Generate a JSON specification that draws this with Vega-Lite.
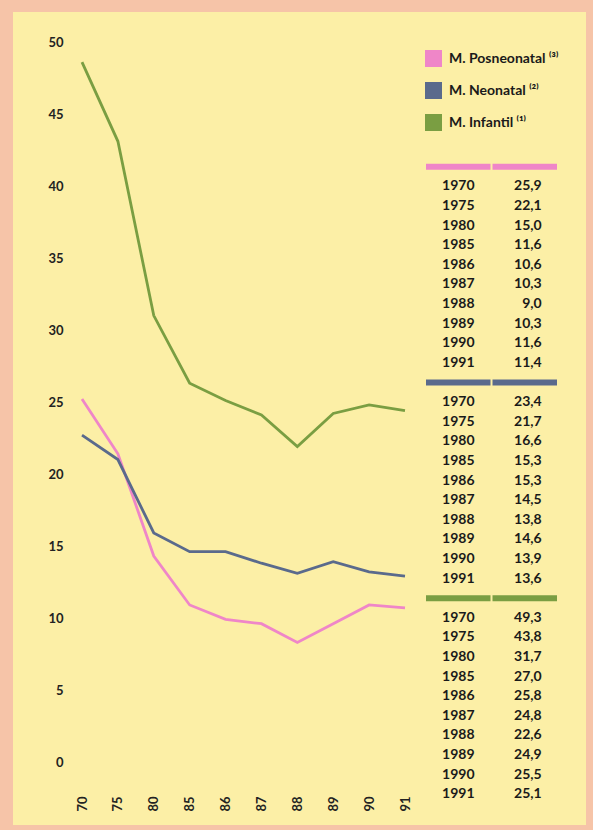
{
  "$schema": "https://vega.github.io/schema/vega-lite/v6.json",
  "autosize": "none",
  "width": 573,
  "height": 813,
  "padding": {"left": 13, "top": 12, "right": 7, "bottom": 5},
  "background": "#f6c4a8",
  "config": {
    "view": {"fill": "#fcefa6", "stroke": null},
    "font": "Lato",
    "locale": {"number": {"decimal": ",", "thousands": ".", "grouping": [3], "currency": ["", " €"]}}
  },
  "data": {
    "values": [
      {"serie": "Posneonatal", "year": "1970", "v": 25.9},
      {"serie": "Posneonatal", "year": "1975", "v": 22.1},
      {"serie": "Posneonatal", "year": "1980", "v": 15.0},
      {"serie": "Posneonatal", "year": "1985", "v": 11.6},
      {"serie": "Posneonatal", "year": "1986", "v": 10.6},
      {"serie": "Posneonatal", "year": "1987", "v": 10.3},
      {"serie": "Posneonatal", "year": "1988", "v": 9.0},
      {"serie": "Posneonatal", "year": "1989", "v": 10.3},
      {"serie": "Posneonatal", "year": "1990", "v": 11.6},
      {"serie": "Posneonatal", "year": "1991", "v": 11.4},
      {"serie": "Neonatal", "year": "1970", "v": 23.4},
      {"serie": "Neonatal", "year": "1975", "v": 21.7},
      {"serie": "Neonatal", "year": "1980", "v": 16.6},
      {"serie": "Neonatal", "year": "1985", "v": 15.3},
      {"serie": "Neonatal", "year": "1986", "v": 15.3},
      {"serie": "Neonatal", "year": "1987", "v": 14.5},
      {"serie": "Neonatal", "year": "1988", "v": 13.8},
      {"serie": "Neonatal", "year": "1989", "v": 14.6},
      {"serie": "Neonatal", "year": "1990", "v": 13.9},
      {"serie": "Neonatal", "year": "1991", "v": 13.6},
      {"serie": "Infantil", "year": "1970", "v": 49.3},
      {"serie": "Infantil", "year": "1975", "v": 43.8},
      {"serie": "Infantil", "year": "1980", "v": 31.7},
      {"serie": "Infantil", "year": "1985", "v": 27.0},
      {"serie": "Infantil", "year": "1986", "v": 25.8},
      {"serie": "Infantil", "year": "1987", "v": 24.8},
      {"serie": "Infantil", "year": "1988", "v": 22.6},
      {"serie": "Infantil", "year": "1989", "v": 24.9},
      {"serie": "Infantil", "year": "1990", "v": 25.5},
      {"serie": "Infantil", "year": "1991", "v": 25.1}
    ]
  },
  "resolve": {"scale": {"x": "independent", "y": "independent"}},
  "layer": [
    {
      "mark": {"type": "line", "strokeWidth": 2.8},
      "encoding": {
        "x": {
          "field": "year", "type": "ordinal",
          "scale": {"type": "point", "range": [69, 392], "padding": 0},
          "axis": {
            "orient": "bottom", "title": null, "ticks": false, "domain": false, "grid": false,
            "labelExpr": "substring(datum.label, 2)", "labelAngle": -90,
            "offset": -31, "labelPadding": 2,
            "labelFont": "Lato", "labelFontWeight": "bold", "labelFontSize": 13, "labelColor": "#222222"
          }
        },
        "y": {
          "field": "v", "type": "quantitative",
          "scale": {"domain": [-3.68, 52.78], "nice": false, "zero": false},
          "axis": {
            "values": [0, 5, 10, 15, 20, 25, 30, 35, 40, 45, 50],
            "title": null, "ticks": false, "domain": false, "grid": false,
            "offset": -55, "labelPadding": 5, "labelOffset": -10,
            "labelFont": "Lato", "labelFontWeight": "bold", "labelFontSize": 13, "labelColor": "#222222"
          }
        },
        "color": {
          "field": "serie", "type": "nominal",
          "scale": {"domain": ["Posneonatal", "Neonatal", "Infantil"], "range": ["#ef86c8", "#5a6a8c", "#7a9e42"]},
          "legend": {
            "orient": "none", "legendX": 412, "legendY": 38, "title": null,
            "symbolType": "square", "symbolSize": 289, "symbolStrokeWidth": 0, "symbolOpacity": 1,
            "labelFont": "Lato", "labelFontWeight": "bold", "labelFontSize": 14, "labelColor": "#1a1a1a",
            "labelOffset": 7, "rowPadding": 15, "padding": 0,
            "labelExpr": "datum.label == 'Posneonatal' ? 'M. Posneonatal ⁽³⁾' : datum.label == 'Neonatal' ? 'M. Neonatal ⁽²⁾' : 'M. Infantil ⁽¹⁾'",
            "encode": {"symbols": {"update": {"fill": {"scale": "color", "field": "value"}, "stroke": {"value": "transparent"}}}}
          }
        }
      }
    },
    {
      "transform": [{"aggregate": [{"op": "count", "as": "n"}], "groupby": ["serie"]}],
      "mark": {"type": "rect", "height": 6},
      "encoding": {
        "x": {"datum": "año", "type": "nominal", "scale": {"type": "band", "domain": ["año", "valor"], "range": [413, 544], "paddingInner": 0.03, "paddingOuter": 0}, "axis": null},
        "y": {"field": "serie", "type": "nominal", "scale": {"type": "band", "domain": ["Posneonatal", "Neonatal", "Infantil"], "range": [145, 792], "paddingInner": 0, "paddingOuter": 0}, "axis": null},
        "yOffset": {"datum": "h", "type": "nominal", "scale": {"domain": ["h", "1970", "1975", "1980", "1985", "1986", "1987", "1988", "1989", "1990", "1991"], "paddingInner": 0, "paddingOuter": 0}},
        "color": {"field": "serie", "type": "nominal"}
      }
    },
    {
      "transform": [{"aggregate": [{"op": "count", "as": "n"}], "groupby": ["serie"]}],
      "mark": {"type": "rect", "height": 6},
      "encoding": {
        "x": {"datum": "valor", "type": "nominal", "scale": {"type": "band", "domain": ["año", "valor"], "range": [413, 544], "paddingInner": 0.03, "paddingOuter": 0}, "axis": null},
        "y": {"field": "serie", "type": "nominal", "scale": {"type": "band", "domain": ["Posneonatal", "Neonatal", "Infantil"], "range": [145, 792], "paddingInner": 0, "paddingOuter": 0}, "axis": null},
        "yOffset": {"datum": "h", "type": "nominal", "scale": {"domain": ["h", "1970", "1975", "1980", "1985", "1986", "1987", "1988", "1989", "1990", "1991"], "paddingInner": 0, "paddingOuter": 0}},
        "color": {"field": "serie", "type": "nominal"}
      }
    },
    {
      "mark": {"type": "text", "font": "Lato", "fontWeight": "bold", "fontSize": 14, "color": "#1a1a1a"},
      "encoding": {
        "x": {"datum": "año", "type": "nominal", "scale": {"type": "band", "domain": ["año", "valor"], "range": [413, 544], "paddingInner": 0.03, "paddingOuter": 0}, "axis": null},
        "y": {"field": "serie", "type": "nominal", "scale": {"type": "band", "domain": ["Posneonatal", "Neonatal", "Infantil"], "range": [145, 792], "paddingInner": 0, "paddingOuter": 0}, "axis": null},
        "yOffset": {"field": "year", "type": "nominal", "scale": {"domain": ["h", "1970", "1975", "1980", "1985", "1986", "1987", "1988", "1989", "1990", "1991"], "paddingInner": 0, "paddingOuter": 0}},
        "text": {"field": "year"}
      }
    },
    {
      "mark": {"type": "text", "font": "Lato", "fontWeight": "bold", "fontSize": 14, "color": "#1a1a1a", "align": "right", "dx": 17},
      "encoding": {
        "x": {"datum": "valor", "type": "nominal", "scale": {"type": "band", "domain": ["año", "valor"], "range": [413, 544], "paddingInner": 0.03, "paddingOuter": 0}, "axis": null},
        "y": {"field": "serie", "type": "nominal", "scale": {"type": "band", "domain": ["Posneonatal", "Neonatal", "Infantil"], "range": [145, 792], "paddingInner": 0, "paddingOuter": 0}, "axis": null},
        "yOffset": {"field": "year", "type": "nominal", "scale": {"domain": ["h", "1970", "1975", "1980", "1985", "1986", "1987", "1988", "1989", "1990", "1991"], "paddingInner": 0, "paddingOuter": 0}},
        "text": {"field": "v", "type": "quantitative", "format": ".1f"}
      }
    }
  ]
}
